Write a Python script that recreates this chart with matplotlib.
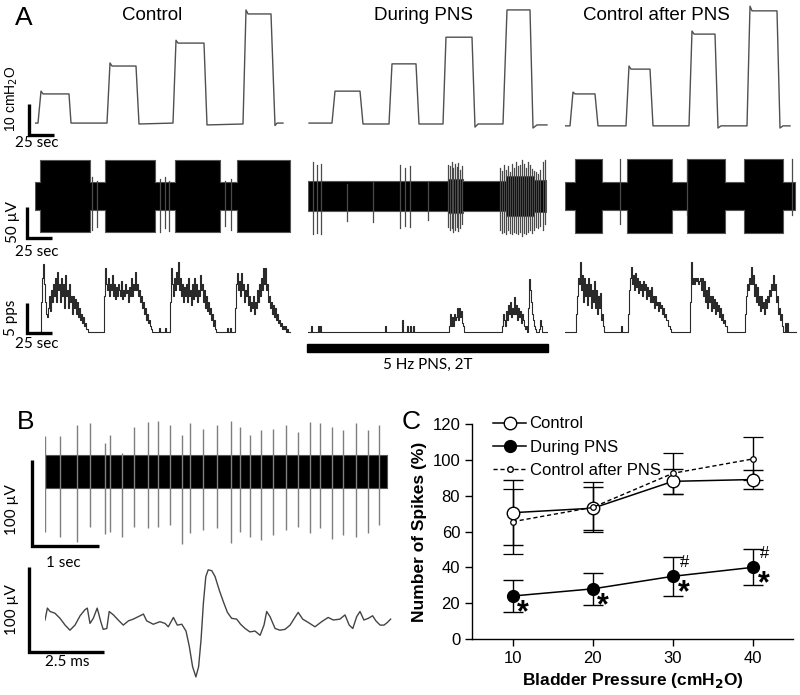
#!/usr/bin/env python3
"""Afferent firing vs bladder pressure: raw traces (A, B) and summary (C)."""
import numpy as np
import matplotlib
matplotlib.use("Agg")
import matplotlib.pyplot as plt
from matplotlib.patches import Rectangle
from matplotlib.lines import Line2D

W, H = 800, 695
ARIAL = "Liberation Sans"
CALIBRI = "Lato"
plt.rcParams["font.family"] = [ARIAL, "DejaVu Sans"]

# ---------------- Panel A: bladder pressure (s, cmH2O) ----------------
PRES_CTRL_T = [0, 3, 6, 8, 34, 36, 72, 75, 77, 101, 104, 138, 141, 143, 169, 172,
               208, 211, 213, 236, 240, 242, 248]
PRES_CTRL_P = [0.3, 0.3, 10.6, 9.7, 9.7, 0.3, 0.3, 19.7, 18.7, 18.7, 0.0, 0.3, 27.0,
               26.1, 26.1, -0.3, 0.0, 36.8, 35.5, 35.5, -0.5, 0.3, 0.3]
PRES_PNS_T = [1, 24, 27, 52, 55, 81, 84, 108, 111, 135, 138, 164, 167, 170, 195, 199,
              222, 225, 229, 239]
PRES_PNS_P = [0.3, 0.3, 10.6, 10.6, 0.0, 0.0, 19.4, 19.4, 0.0, 0.0, 28.0, 28.0, -1.0,
              0.0, 0.0, 36.8, 36.8, -1.3, -0.3, -0.3]
PRES_AFTER_T = [0, 5, 8, 10, 30, 33, 61, 64, 66, 85, 88, 124, 127, 129, 150, 153, 156,
                182, 185, 187, 212, 215, 218, 225]
PRES_AFTER_P = [-0.6, -0.6, 10.3, 9.7, 9.7, -0.6, -0.6, 18.7, 17.7, 17.7, -0.6, -0.6,
                30.0, 29.0, 29.0, -1.3, -0.6, -0.6, 38.0, 36.5, 36.5, -1.3, -0.6, -0.6]

# ---------------- Panel A: raw nerve activity envelopes (s, uV) ----------------
RAW_CTRL_EDGES = [0, 5, 55, 70, 120, 140, 185, 202, 255]
RAW_CTRL_AMP = [23, 58, 23, 58, 23, 58, 23, 58]
RAW_PNS_EDGES = [0, 140, 155, 198, 226, 238]
RAW_PNS_AMP = [24, 28, 24, 32, 26]
RAW_AFTER_EDGES = [0, 10, 37, 62, 107, 122, 160, 179, 218, 230]
RAW_AFTER_AMP = [23, 60, 23, 60, 23, 60, 23, 60, 23]
# isolated spikes: (time s, top uV, bottom uV)
SPK_CTRL = [(57, 30, -55), (62, 25, -50), (125, 28, -58), (130, 30, -52),
            (134, 25, -56), (190, 25, -48), (196, 28, -55)]
SPK_PNS = [(5, 55, -62), (9, 50, -60), (13, 52, -62), (39, 20, -40), (65, 22, -42),
           (92, 50, -52), (97, 45, -48), (102, 48, -50), (120, 22, -38),
           (140, 50, -50), (142, 48, -55), (143.5, 55, -52), (145, 45, -58),
           (147, 52, -55), (148.5, 46, -50), (150, 53, -56), (152, 42, -52),
           (154, 48, -45), (192, 45, -55), (194, 40, -60), (196, 50, -58),
           (198, 42, -62), (200, 48, -55), (202, 38, -60), (204, 52, -62),
           (206, 45, -58), (208, 55, -60), (210, 48, -62), (212, 50, -58),
           (214, 58, -65), (216, 52, -60), (218, 45, -62), (220, 55, -58),
           (222, 50, -55), (224, 44, -60), (226, 40, -55), (228, 38, -50),
           (230, 35, -52), (232, 42, -48), (235, 55, -55), (237, 58, -45)]
SPK_AFTER = [(55, 60, -45), (122, 60, -30), (227, 60, -30)]

# ---------------- Panel A: firing rate (pps, 1-s bins) ----------------
RATE_CTRL_LEN = 256
RATE_CTRL = [
    (5, [0, 5, 9, 11.4, 8, 5, 3, 2.5, 4, 6, 3.5, 7, 5, 8, 6, 9, 5, 10, 7, 8, 5, 9, 6, 8,
         4, 9.5, 6, 7, 4, 8, 5, 6, 3, 6, 4, 5.5, 3, 5, 2.5, 4, 2, 3, 1.5, 2.5, 1, 1.5,
         0.5, 0.5, 0]),
    (68, [0, 6, 10.6, 8, 7, 9, 6, 8, 7, 9.5, 6, 8, 5.5, 7.5, 6, 8, 7, 6, 8.5, 5.5, 7, 6,
          8, 6.5, 7, 5, 7.5, 6, 9, 6, 8, 7, 10, 7, 8, 6, 7, 5, 6, 4, 5, 3, 4, 2, 3, 1.5,
          2, 1, 0.5, 0]),
    (124, [0.7]), (130, [0.7]),
    (134, [0, 5, 10.6, 8, 6, 9, 7, 10, 8, 11.7, 7, 9, 6, 8, 5, 7.5, 6, 8, 5, 9, 6, 7,
           4.5, 8, 5.5, 9, 6, 8, 5, 7, 6, 9.5, 7, 8, 5, 7, 4, 6, 3.5, 5, 3, 4, 2, 3, 1,
           2, 0.5, 0]),
    (192, [0.7]), (195, [0.7]),
    (199, [0, 4, 8, 9.8, 7, 8.5, 6, 9.8, 7, 8, 5, 7, 6, 8, 4.5, 6, 3.5, 5, 4, 6, 3, 5,
           4, 7, 5, 8, 6, 9, 7, 10.6, 8, 10.6, 7, 8, 5, 6, 4, 5, 3, 4.5, 2.5, 4, 2, 3,
           1.5, 2, 1, 1.5, 0.5, 1, 0.5, 1, 0, 0.5, 0, 0]),
]
RATE_PNS_LEN = 240
RATE_PNS = [
    (3, [1]), (10, [1, 0, 1]), (77, [1]),
    (94, [2, 0, 0, 0, 0, 1, 0, 0, 1, 0, 0, 1]),
    (141, [1, 3, 1, 2.5, 1, 3, 2, 2.5, 4, 2, 4, 2.5, 3.5, 1.5, 1, 0]),
    (194, [1, 3, 2, 1, 3.5, 2, 4.5, 3, 5, 2.5, 4, 3, 5.8, 3, 4.5, 2, 4, 2.5, 3.5, 1.5,
           3, 2, 1, 0.5, 1, 0, 4, 8.8, 7, 5, 3, 2, 1, 0.5, 0, 0, 0, 0.5, 2, 1]),
]
RATE_AFTER_LEN = 232
RATE_AFTER = [
    (10, [0, 3, 6, 9, 8, 11.7, 7, 9.5, 5, 9, 6, 8, 4.5, 9, 6, 8, 4, 7, 5, 8.5, 4, 7, 3,
          6, 4, 6.5, 2, 3, 1, 0]),
    (56, [1]),
    (62, [0, 3, 7, 9, 10.9, 8, 9.5, 7, 9.8, 7.5, 9, 6.5, 8.5, 7, 8, 6, 8.5, 7, 8, 5.5,
          7.5, 6, 7, 5, 7.5, 5, 6, 4, 6, 4.5, 5, 3.5, 5, 4, 4.5, 3, 4, 2.5, 3, 2, 2, 1,
          1, 0.5, 0]),
    (124, [0, 5, 11.7, 8, 9, 8, 9, 8.5, 9, 8, 8.5, 9, 7, 9, 6, 8.5, 5, 7, 4, 7.5, 5, 6,
           3.5, 6, 4, 5.5, 3, 5, 3.5, 4.5, 2.5, 4, 2, 3, 1.5, 2, 1, 1, 0]),
    (179, [0, 3, 6, 8, 7, 9, 8, 10.9, 8, 9.5, 6, 8, 5, 7.5, 4.5, 6, 3.5, 6, 4, 5, 3,
           5.5, 4, 6, 5, 7, 6, 8, 7, 9.5, 7, 8, 5, 6, 3, 4, 2, 3, 1, 0, 0, 1.5, 0, 1.5,
           0, 0]),
]
PNS_ON = (-1, 240)

# ---------------- Panel B ----------------
B_DURATION = 5.1  # s
B_BAND = 19       # uV
B_SPIKE_T = [0.0, 0.22, 0.48, 0.67, 0.90, 0.97, 1.15, 1.33, 1.54, 1.69, 1.87, 2.04,
             2.17, 2.36, 2.56, 2.78, 2.91, 3.06, 3.23, 3.41, 3.60, 3.77, 3.96, 4.11,
             4.28, 4.45, 4.64, 4.82, 4.99]
B_SPIKE_UP = [41, 41, 54, 56, 33, 43, 21, 52, 58, 59, 54, 43, 56, 50, 54, 59, 52, 43,
              48, 49, 54, 46, 57, 56, 52, 48, 56, 48, 54]
B_SPIKE_DN = [-70, -76, -82, -64, -73, -70, -76, -64, -66, -64, -62, -84, -72, -68,
              -66, -83, -70, -76, -80, -74, -68, -64, -72, -66, -79, -74, -76, -72, -62]

WAVE_T = [0, 0.08, 0.17, 0.33, 0.5, 0.67, 0.83, 1.0, 1.17, 1.33, 1.41, 1.5, 1.61,
          1.74, 1.86, 1.94, 2.06, 2.14, 2.28, 2.44, 2.61, 2.78, 2.94, 3.17, 3.28, 3.39,
          3.61, 3.83, 4.0, 4.11, 4.28, 4.41, 4.56, 4.7, 4.81, 4.92, 5.03, 5.12, 5.2,
          5.28, 5.36, 5.44, 5.56, 5.67, 5.81, 5.94, 6.08, 6.22, 6.39, 6.52, 6.67, 6.83,
          7.0, 7.17, 7.3, 7.39, 7.5, 7.67, 7.83, 8.0, 8.17, 8.33, 8.44, 8.59, 8.78, 9.0,
          9.22, 9.44, 9.61, 9.83, 10.0, 10.14, 10.26, 10.39, 10.5, 10.63, 10.78, 10.92,
          11.03, 11.17, 11.3, 11.41, 11.52]
WAVE_V = [0, 14, 10, 8, 2, -6, -12, -6, 5, 12, 14, -4, 2, 14, -2, -11, -10, 10, 6, 0,
          -6, -1, 1, 5, 7, -1, -5, -2, -4, -8, 3, -6, -5, -13, -31, -55, -67, -55, -24,
          20, 51, 59, 58, 51, 35, 22, 9, 2, 1, -5, -10, -14, -13, -18, -6, 10, 4, -10,
          -12, -11, -6, 3, 9, 1, -3, -8, -2, 3, 0, 1, 6, -6, -10, 4, 10, 0, 2, 5, -1, -6,
          -6, -3, 1]

# ---------------- Panel C ----------------
PRESSURE = [10, 20, 30, 40]
CTRL = [70.5, 73, 88, 89]
CTRL_ERR = [18, 12, 7, 5.5]
DURING = [24, 28, 35, 40]
DURING_ERR = [9, 9, 11, 10]
AFTER = [65.5, 73.5, 92.5, 100.5]
AFTER_ERR = [18, 14, 11.5, 12]
STAR_AT = [10, 20, 30, 40]
HASH_AT = [30, 40]


fig = plt.figure(figsize=(W / 100, H / 100), dpi=100)


def px_axes(x0, y0, x1, y1):
    ax = fig.add_axes([x0 / W, 1 - y1 / H, (x1 - x0) / W, (y1 - y0) / H])
    ax.set_axis_off()
    return ax


def trace_axes(x0, width, ytop, ybot, yzero, ppu, ppx=1.0):
    ax = px_axes(x0, ytop, x0 + width, ybot)
    ax.set_xlim(0, width / ppx)
    ax.set_ylim((yzero - ybot) / ppu, (yzero - ytop) / ppu)
    return ax


def ftext(x, y, s, **kw):
    kw.setdefault("ha", "center")
    kw.setdefault("va", "center")
    fig.text(x / W, 1 - y / H, s, **kw)


def scale_bar(ax, x, y, dx, dy):
    ax.plot([x, x, x + dx], [y + dy, y, y], color="black", lw=2.4,
            solid_capstyle="butt", solid_joinstyle="miter", clip_on=False)


def rate_series(length, segments):
    r = np.zeros(length)
    for start, vals in segments:
        r[start:start + len(vals)] = vals
    return np.arange(length), r


def draw_raw(ax, edges, amps, spikes):
    e = np.asarray(edges, float)
    a = np.append(amps, amps[-1])
    ax.fill_between(e, -a, a, step="post", color="black", ec="#555555", lw=0.8)
    for t, up, dn in spikes:
        ax.plot([t, t], [dn, up], color="#4a4a4a", lw=0.9)


columns = [
    (35, 260, PRES_CTRL_T, PRES_CTRL_P, RAW_CTRL_EDGES, RAW_CTRL_AMP, SPK_CTRL,
     RATE_CTRL_LEN, RATE_CTRL),
    (308, 245, PRES_PNS_T, PRES_PNS_P, RAW_PNS_EDGES, RAW_PNS_AMP, SPK_PNS,
     RATE_PNS_LEN, RATE_PNS),
    (565, 234, PRES_AFTER_T, PRES_AFTER_P, RAW_AFTER_EDGES, RAW_AFTER_AMP, SPK_AFTER,
     RATE_AFTER_LEN, RATE_AFTER),
]

for i, (x0, wd, pt, pp, re, ra, spk, rlen, rseg) in enumerate(columns):
    axp = trace_axes(x0, wd, 5, 140, 124, 3.1)
    axp.plot(pt, pp, color="#505050", lw=1.0)
    axr = trace_axes(x0, wd, 150, 245, 196, 0.62)
    draw_raw(axr, re, ra, spk)
    axf = trace_axes(x0, wd, 255, 340, 332, 6.0)
    t, r = rate_series(rlen, rseg)
    axf.step(t, r, where="post", color="#2a2a2a", lw=0.8)
    if i == 0:
        scale_bar(axp, -6, -3.5, 25, 10)
        scale_bar(axr, -8, -68, 25, 50)
        scale_bar(axf, -8, -0.2, 25, 5)
    if i == 1:
        axf.add_patch(Rectangle((PNS_ON[0], -3.35), PNS_ON[1] - PNS_ON[0], 1.3,
                                color="black", clip_on=False))

# scale-bar labels and titles for A
ftext(12, 99, "10 cmH$_2$O", rotation=90, fontsize=10, family=ARIAL)
ftext(37, 143, "25 sec", fontsize=11, family=CALIBRI)
ftext(13, 222, "50 µV", rotation=90, fontsize=11, family=CALIBRI)
ftext(37, 252, "25 sec", fontsize=11, family=CALIBRI)
ftext(11, 318, "5 pps", rotation=90, fontsize=11, family=CALIBRI)
ftext(37, 344, "25 sec", fontsize=11, family=CALIBRI)
ftext(428, 365, "5 Hz PNS, 2T", fontsize=11, family=CALIBRI)
ftext(152, 15, "Control", fontsize=13.5, family=ARIAL)
ftext(424, 15, "During PNS", fontsize=13.5, family=ARIAL)
ftext(656, 15, "Control after PNS", fontsize=13.5, family=ARIAL)
ftext(24, 18, "A", fontsize=19, family=ARIAL)
ftext(26, 422, "B", fontsize=19, family=ARIAL)
ftext(411, 422, "C", fontsize=19, family=ARIAL)

# ---------------- Panel B drawing ----------------
axb = trace_axes(45, 355, 415, 555, 471.5, 0.86, ppx=67)
axb.fill_between([0, B_DURATION], -B_BAND, B_BAND, color="black", ec="#555555",
                 lw=0.8)
axb.vlines(B_SPIKE_T, B_SPIKE_DN, B_SPIKE_UP, color="#7f7f7f", lw=1.0)
scale_bar(axb, -0.19, -86.6, 1.0, 100)
ftext(12, 510, "100 µV", rotation=90, fontsize=11, family=CALIBRI)
ftext(63, 563, "1 sec", fontsize=11, family=CALIBRI)

axw = trace_axes(45, 355, 560, 685, 620, 0.85, ppx=30)
axw.plot(WAVE_T, WAVE_V, color="#444444", lw=1.0)
scale_bar(axw, -0.53, -37.6, 2.5, 100)
ftext(12, 610, "100 µV", rotation=90, fontsize=11, family=CALIBRI)
ftext(67, 662, "2.5 ms", fontsize=11, family=CALIBRI)

# ---------------- Panel C drawing ----------------
axc = fig.add_axes([472 / W, 1 - 639 / H, 321 / W, 215 / H])
ekw = dict(capsize=7, elinewidth=1.0, capthick=1.0, ecolor="black")
axc.errorbar(PRESSURE, CTRL, yerr=CTRL_ERR, color="black", lw=1.1, marker="o",
             ms=9, mfc="white", mec="black", mew=1.0, **ekw)
axc.errorbar(PRESSURE, DURING, yerr=DURING_ERR, color="black", lw=1.1, marker="o",
             ms=8.5, mfc="black", mec="black", **ekw)
axc.errorbar(PRESSURE, AFTER, yerr=AFTER_ERR, color="black", lw=1.0, ls=(0, (3, 2)),
             marker="o", ms=4, mfc="white", mec="black", mew=0.9, **ekw)
for x in STAR_AT:
    y = DURING[PRESSURE.index(x)]
    axc.text(x + 1.3, y - 9.5, "*", fontsize=22, fontweight="bold", ha="center",
             va="center", family=ARIAL)
for x in HASH_AT:
    y = DURING[PRESSURE.index(x)]
    axc.text(x + 1.4, y + 7.5, "#", fontsize=12, ha="center", va="center",
             family=ARIAL)

axc.set_xlim(4.9, 45)
axc.set_ylim(0, 120)
axc.set_xticks(PRESSURE)
axc.set_yticks(range(0, 121, 20))
for s in ("top", "right"):
    axc.spines[s].set_visible(False)
for s in ("left", "bottom"):
    axc.spines[s].set_linewidth(1.0)
axc.tick_params(direction="out", length=5, width=1.0, labelsize=12)
for lab in axc.get_xticklabels() + axc.get_yticklabels():
    lab.set_family(ARIAL)
axc.set_xlabel("Bladder Pressure (cmH$_\\mathbf{2}$O)", fontsize=12.5,
               fontweight="bold", family=ARIAL, labelpad=4)
axc.set_ylabel("Number of Spikes (%)", fontsize=12.5, fontweight="bold",
               family=ARIAL, labelpad=4)
handles = [
    Line2D([], [], color="black", lw=1.1, marker="o", ms=9, mfc="white", mec="black"),
    Line2D([], [], color="black", lw=1.1, marker="o", ms=8.5, mfc="black", mec="black"),
    Line2D([], [], color="black", lw=1.0, ls=(0, (3, 2)), marker="o", ms=4,
           mfc="white", mec="black"),
]
labels = ["Control", "During PNS", "Control after PNS"]
axc.legend(handles, labels, loc="upper left", bbox_to_anchor=(0.065, 1.035),
           frameon=False, handlelength=2.0, handletextpad=0.2,
           labelspacing=0.5, borderpad=0, borderaxespad=0,
           prop={"family": ARIAL, "size": 12})

fig.savefig("out.png", dpi=100)
